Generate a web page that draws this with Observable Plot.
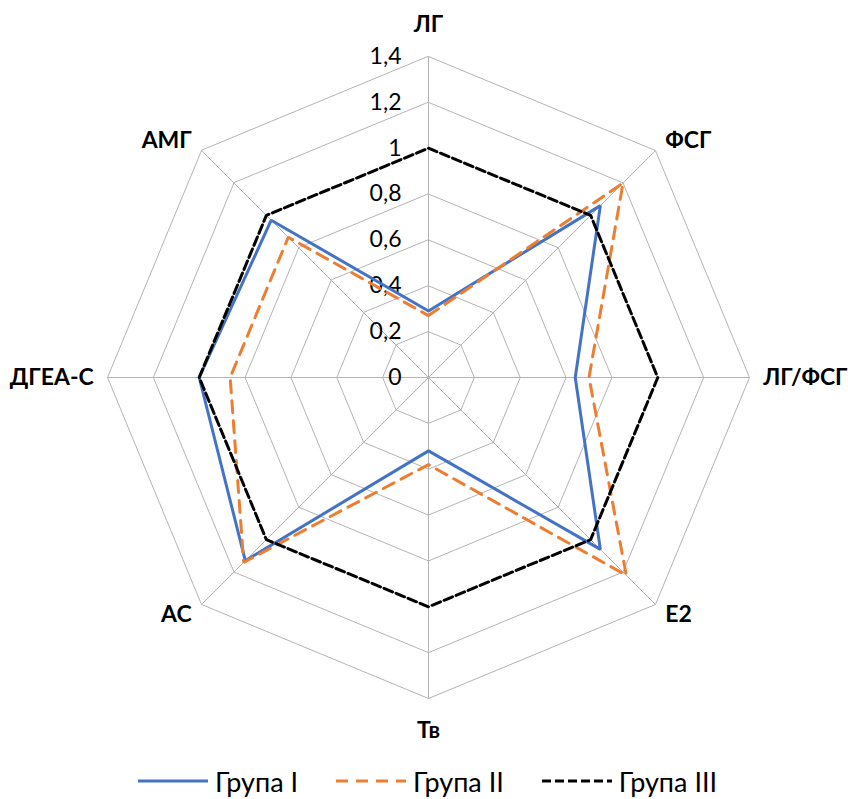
<!DOCTYPE html>
<html><head><meta charset="utf-8">
<script src="https://cdn.jsdelivr.net/npm/d3@7"></script>
<script src="https://cdn.jsdelivr.net/npm/@observablehq/plot@0.6"></script>
<style>
body{margin:0;background:#fff;font-family:Lato,"Open Sans",sans-serif;}
#chart svg{display:block;}
#legend{display:flex;justify-content:center;align-items:center;height:42px;gap:38px;font-size:27px;line-height:1;color:#000;padding-left:7px;}
.item{display:flex;align-items:center;gap:7px;}
.item span{line-height:1;}
</style></head><body><div id="chart"></div><div id="legend"></div>
<script>
const categories = ["ЛГ","ФСГ","ЛГ/ФСГ","E2","Тв","АС","ДГЕА-С","АМГ"];
const group1 = [0.29, 1.06, 0.64, 1.06, 0.32, 1.13, 1.00, 0.97];
const group2 = [0.27, 1.20, 0.70, 1.22, 0.38, 1.14, 0.865, 0.865];
const group3 = [1.00, 1.00, 1.00, 1.00, 1.00, 1.00, 1.00, 1.00];
const seriesNames = ["Група I","Група II","Група III"];
const seriesColors = ["#4472C4","#ED7D31","#000000"];
const seriesDash = [null,"12,8","9,4"];
const tickValues = [0,0.2,0.4,0.6,0.8,1.0,1.2,1.4];
const tickLabels = ["0","0,2","0,4","0,6","0,8","1","1,2","1,4"];

const n = categories.length;
const ang = i => i * 2 * Math.PI / n;
const px = (r,i) => r * Math.sin(ang(i));
const py = (r,i) => r * Math.cos(ang(i));
const rMax = tickValues[tickValues.length-1];

const ringRows = tickValues.filter(t => t > 0).flatMap(t => categories.map((c,i) => ({t, x: px(t,i), y: py(t,i)})));
const spokeRows = categories.map((c,i) => ({x1: 0, y1: 0, x2: px(rMax,i), y2: py(rMax,i)}));
const series = [group1, group2, group3];
const seriesRows = series.map((vals, s) => vals.map((v,i) => ({s, x: px(v,i), y: py(v,i)})));
const labelRows = categories.map((c,i) => {
  const r = (i % 4 === 0) ? 1.54 : 1.46;
  const sx = Math.sin(ang(i));
  return {c, x: px(r,i), y: py(r,i), anchor: Math.abs(sx) < 0.01 ? "middle" : (sx > 0 ? "start" : "end")};
});
const tickRows = tickValues.map((t,k) => ({x: 0, y: t, label: tickLabels[k]}));

const marks = [
  Plot.line(ringRows, {x: "x", y: "y", z: "t", curve: "linear-closed", stroke: "#b4b4b4", strokeWidth: 1}),
  Plot.link(spokeRows, {x1: "x1", y1: "y1", x2: "x2", y2: "y2", stroke: "#b4b4b4", strokeWidth: 1}),
  Plot.text(tickRows, {x: "x", y: "y", text: "label", textAnchor: "end", dx: -27, dy: 0, fontSize: 23, fill: "#000"}),
];
seriesRows.forEach((rows, s) => {
  marks.push(Plot.line(rows, {x: "x", y: "y", curve: "linear-closed", stroke: seriesColors[s], strokeWidth: 3, strokeDasharray: seriesDash[s], strokeLinejoin: "miter"}));
});
["start","end","middle"].forEach(a => {
  marks.push(Plot.text(labelRows.filter(d => d.anchor === a), {x: "x", y: "y", text: "c", textAnchor: a, fontSize: 23, fontWeight: "bold", fill: "#000"}));
});

const chart = Plot.plot({
  width: 848, height: 760,
  margin: 0,
  style: {fontFamily: "Lato, 'Open Sans', sans-serif", background: "#fff"},
  x: {domain: [-rMax, rMax], range: [107, 749], axis: null},
  y: {domain: [-rMax, rMax], range: [698, 56], axis: null},
  marks
});
document.getElementById("chart").append(chart);

const legend = document.getElementById("legend");
seriesNames.forEach((name, s) => {
  const item = document.createElement("div");
  item.className = "item";
  item.innerHTML = `<svg width="70" height="10"><line x1="0" y1="5" x2="70" y2="5" stroke="${seriesColors[s]}" stroke-width="3" ${seriesDash[s] ? `stroke-dasharray="${seriesDash[s]}"` : ""}/></svg><span>${name}</span>`;
  legend.append(item);
});
</script>
</body></html>
